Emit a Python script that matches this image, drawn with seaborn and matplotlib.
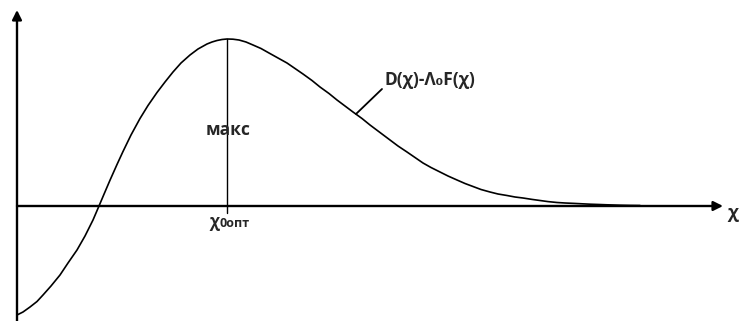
import matplotlib
matplotlib.use("Agg")
import matplotlib.pyplot as plt
import seaborn as sns
import pandas as pd

# Curve D(χ) - Λ0·F(χ), sampled along χ
chi = [0, 6, 13, 20, 26, 34, 43, 51, 60, 68, 76, 82, 87, 93, 100, 106, 114,
       123, 131, 140, 148, 156, 164, 173, 181, 190, 195, 200, 205, 210, 216,
       222, 229, 236, 244, 252, 261, 270, 278, 286, 295, 303, 312, 320, 328,
       336, 345, 353, 363, 373, 381, 390, 398, 406, 414, 423, 431, 440, 448,
       456, 464, 473, 481, 490, 498, 506, 515, 523, 531, 540, 548, 557, 565,
       573, 582, 590, 603, 613, 623]
value = [-109, -106, -101, -95.5, -89, -80, -69, -57, -44, -30, -14, 0, 11.8,
         25.8, 41.5, 54.5, 71, 87.5, 100.5, 113.5, 124, 134, 143, 151, 157,
         162, 164, 165.5, 166.5, 167, 166.8, 166, 164, 161, 157.5, 153, 148,
         143, 137.5, 132, 125.5, 119, 112.5, 106, 100, 94, 87.5, 81, 73.5, 66,
         60, 54, 48.5, 43, 38.5, 34, 30, 26, 22.5, 19.5, 16.5, 14, 12, 10.5,
         9, 8, 6.6, 5.5, 4.4, 3.5, 3, 2.6, 2.2, 1.8, 1.5, 1.2, 0.8, 0.6, 0.5]

chi_opt = 210
peak = 167

curve_label = "D(χ)-Λ\u2080F(χ)"
max_label = "макс"
axis_label = "χ"
opt_main = "χ"
opt_sub = "0опт"

sns.set_style("white")
plt.rcParams["font.family"] = ["Open Sans", "DejaVu Sans"]

fig = plt.figure(figsize=(7.40, 3.21), dpi=100)
ax = fig.add_axes([0, 0, 1, 1])
ax.set_xlim(-17, 723)
ax.set_ylim(-115, 206)
ax.axis("off")

df = pd.DataFrame({"chi": chi, "value": value})
sns.lineplot(data=df, x="chi", y="value", ax=ax, color="black", linewidth=1.2,
             sort=False, estimator=None)

# Coordinate axes with arrowheads
arrow = dict(arrowstyle="-|>", color="black", lw=1.7, mutation_scale=14,
             shrinkA=0, shrinkB=0)
ax.annotate("", xy=(706, 0), xytext=(0, 0), arrowprops=arrow)
ax.annotate("", xy=(0, 196), xytext=(0, -120), arrowprops=arrow,
            annotation_clip=False)

# Maximum marker
ax.plot([chi_opt, chi_opt], [-7, peak], color="black", lw=1.0)
ax.text(chi_opt + 1, 76, max_label, ha="center", va="center",
        fontsize=12.5, fontweight="bold")

# Curve label with leader line
ax.plot([339, 365], [92, 117], color="black", lw=1.3)
ax.text(367, 126, curve_label, ha="left", va="center",
        fontsize=12.5, fontweight="bold")

# Axis labels
ax.text(716, -7, axis_label, ha="center", va="center",
        fontsize=13, fontweight="bold")
ax.text(202, -21, opt_main, ha="right", va="baseline",
        fontsize=12, fontweight="bold")
ax.text(202, -21, opt_sub, ha="left", va="baseline",
        fontsize=9, fontweight="bold")

fig.savefig("out.png", dpi=100, facecolor="white")
